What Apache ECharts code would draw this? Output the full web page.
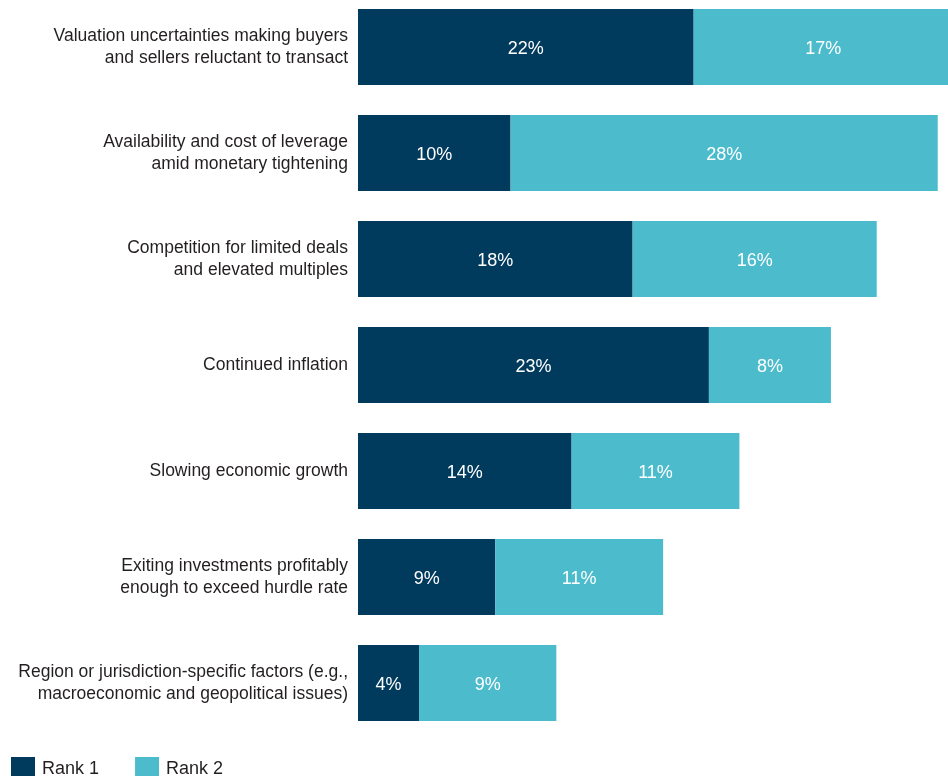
<!DOCTYPE html>
<html>
<head>
<meta charset="utf-8">
<style>
  html, body { margin: 0; padding: 0; background: #ffffff; }
  #chart { width: 948px; height: 776px; }
</style>
<script src="https://cdn.jsdelivr.net/npm/echarts@6/dist/echarts.min.js"></script>
</head>
<body>
<div id="chart"></div>
<script>
// Challenges ranked first and second (share of respondents, %)
const categories = [
  'Valuation uncertainties making buyers\nand sellers reluctant to transact',
  'Availability and cost of leverage\namid monetary tightening',
  'Competition for limited deals\nand elevated multiples',
  'Continued inflation',
  'Slowing economic growth',
  'Exiting investments profitably\nenough to exceed hurdle rate',
  'Region or jurisdiction-specific factors (e.g.,\nmacroeconomic and geopolitical issues)'
];
const rank1 = [22, 10, 18, 23, 14, 9, 4];
const rank2 = [17, 28, 16, 8, 11, 11, 9];
const seriesNames = ['Rank 1', 'Rank 2'];

const FONT = 'Liberation Sans';
const chart = echarts.init(document.getElementById('chart'), null, { renderer: 'canvas' });

const valueLabel = {
  show: true,
  position: 'inside',
  offset: [0, 2],
  color: '#ffffff',
  fontFamily: FONT,
  fontSize: 18,
  formatter: p => p.value + '%'
};

chart.setOption({
  animation: false,
  backgroundColor: '#ffffff',
  grid: {
    left: 358, right: -5, top: -6, height: 742,
    containLabel: false,
    outerBoundsMode: 'none'
  },
  legend: {
    data: seriesNames,
    left: 11,
    top: 757,
    padding: 0,
    itemWidth: 24,
    itemHeight: 24,
    itemGap: 36,
    icon: 'rect',
    textStyle: { fontFamily: FONT, fontSize: 18, color: '#231f20', padding: [6, 0, 0, 2] }
  },
  xAxis: {
    type: 'value',
    min: 0,
    max: 39,
    show: false
  },
  yAxis: {
    type: 'category',
    data: categories,
    inverse: true,
    axisLine: { show: false },
    axisTick: { show: false },
    splitLine: { show: false },
    axisLabel: {
      margin: 10,
      fontFamily: FONT,
      fontSize: 17.5,
      lineHeight: 22,
      color: '#231f20',
      align: 'right',
      padding: [5, 0, 0, 0]
    }
  },
  series: [
    {
      name: seriesNames[0],
      type: 'bar',
      stack: 'rank',
      data: rank1,
      barWidth: 76,
      itemStyle: { color: '#003a5d' },
      label: valueLabel
    },
    {
      name: seriesNames[1],
      type: 'bar',
      stack: 'rank',
      data: rank2,
      barWidth: 76,
      itemStyle: { color: '#4cbccd' },
      label: valueLabel
    }
  ]
});
</script>
</body>
</html>
